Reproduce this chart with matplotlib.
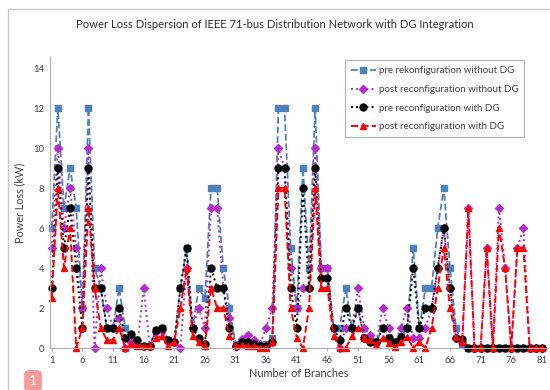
import numpy as np
import matplotlib
matplotlib.use('Agg')
import matplotlib.pyplot as plt
from matplotlib.patches import Rectangle

branches = list(range(1, 82))

pre_no_dg = [6, 12, 7, 9, 7, 2, 12, 4, 3, 1,
             1, 3, 1, 0.5, 0.3, 0.1, 0.1, 0.9, 1, 0.4,
             0.3, 3, 5, 1, 3, 2.5, 8, 8, 4, 2,
             0.2, 0.3, 0.3, 0.2, 0.1, 0.2, 0.5, 12, 12, 5,
             2, 9, 4, 12, 4, 4, 1, 1, 3, 1,
             2, 0.5, 0.5, 0.3, 1, 0.5, 0.3, 0.6, 1, 5,
             1, 3, 3, 6, 8, 4, 1, 0.2, 0, 0,
             0, 0, 0, 0, 0, 0, 0, 0, 0, 0, 0]
post_no_dg = [5, 10, 6, 8, 5, 2, 10, 0, 4, 2,
              1, 1.5, 0, 0.3, 0.2, 3, 0.1, 0.8, 0.9, 0.3,
              0.3, 0, 4, 1, 2, 1, 7, 7, 3, 1.5,
              0.1, 0.45, 0.65, 0.4, 0.2, 1, 2, 10, 9, 4,
              2, 3, 3, 10, 4, 4, 1, 0, 1, 1,
              3, 1, 0.65, 0.3, 2, 1, 0.2, 1, 2, 0.5,
              0.5, 1, 2, 4, 6, 3, 0.5, 0.3, 7, 0,
              0, 5, 0, 7, 4, 0, 5, 6, 0, 0, 0]
pre_dg = [3, 9, 5, 7, 4, 1, 9, 3, 3, 1,
          1, 2, 0.5, 0.7, 0.4, 0.1, 0.1, 0.9, 1, 0.4,
          0.3, 3, 5, 1, 0.5, 0.2, 4, 3, 3, 1,
          0.1, 0.3, 0.3, 0.2, 0.1, 0.1, 0.3, 9, 9, 3,
          1, 8, 3, 9, 3.5, 3.5, 1, 0.4, 2, 1,
          2, 0.5, 0.3, 0.3, 1, 0.5, 0.3, 0.55, 1, 4,
          1, 2, 2, 4, 6, 3, 0.5, 0.45, 0, 0,
          0, 0, 0, 0, 0, 0, 0, 0, 0, 0, 0]
post_dg = [2.5, 8, 4, 6, 0, 1, 7, 3, 1, 0.4,
           0.4, 1, 0, 0.2, 0.1, 0.1, 0.1, 0.5, 0.6, 0.1,
           0.3, 2, 4, 0.6, 0.3, 0.1, 3, 2, 2, 0.6,
           0.1, 0.15, 0.1, 0.1, 0, 0, 0.3, 8, 8, 2,
           0.5, 0, 2, 8, 3, 3, 0.6, 0, 0, 0.6,
           1, 0.5, 0.4, 0.15, 0.5, 0.25, 0.05, 0.3, 0.55, 0,
           0.3, 0, 1, 3, 5, 2, 0.55, 0.3, 7, 0,
           0, 5, 0, 6, 4, 0, 5, 5, 0, 0, 0]

labels = ['pre rekonfiguration without DG',
          'post reconfiguration without DG',
          'pre reconfiguration with DG',
          'post reconfiguration with DG']

plt.rcParams['font.family'] = ['Lato', 'DejaVu Sans']

fig = plt.figure(figsize=(5.5, 3.9), dpi=100)

# outer chart frame
fig.patches.append(Rectangle((8 / 550, -0.02), 1.0, 1 - 9 / 390 + 0.02,
                             transform=fig.transFigure, fill=False,
                             edgecolor='#c8c8c8', linewidth=1.0))

ax = fig.add_axes([50 / 550, 42 / 390, 498 / 550, 291 / 390])

ax.plot(branches, pre_no_dg, linestyle='--', color='#4F81BD', marker='s',
        markersize=4, linewidth=1.3, label=labels[0], clip_on=False)
ax.plot(branches, post_no_dg, linestyle=':', color='#B42FC8', marker='D',
        markersize=4, linewidth=1.4, label=labels[1], clip_on=False)
ax.plot(branches, pre_dg, linestyle=':', color='black', marker='o',
        markersize=5, linewidth=1.4, label=labels[2], clip_on=False)
ax.plot(branches, post_dg, linestyle='--', color='#FF0000', marker='^',
        markersize=5, linewidth=1.4, label=labels[3], clip_on=False)

ax.set_xlim(0.72, 82.0)
ax.set_ylim(0, 14.55)
ax.set_xticks(range(1, 82, 5))
ax.set_yticks(range(0, 15, 2))
ax.tick_params(axis='both', labelsize=6.8, colors='#404040', length=0, pad=4)
ax.tick_params(axis='x', length=2, color='#b0b0b0')

for side in ['top', 'right']:
    ax.spines[side].set_visible(False)
ax.spines['left'].set_color('#b0b0b0')
ax.spines['bottom'].set_color('#b0b0b0')

ax.set_xlabel('Number of Branches', fontsize=7.8, color='#404040', labelpad=2)
ax.set_ylabel('Power Loss (kW)', fontsize=7.8, color='#404040', labelpad=6)

fig.text(275 / 550, 1 - 25 / 390,
         'Power Loss Dispersion of IEEE 71-bus Distribution Network with DG Integration',
         ha='center', va='center', fontsize=8.1, color='#303030')

leg = ax.legend(loc='upper left', bbox_to_anchor=(290 / 498, 1.005), fontsize=7,
                frameon=True, fancybox=False, edgecolor='#a0a0a0',
                handlelength=2.6, labelspacing=1.0, borderpad=0.6,
                handletextpad=0.3)
leg.get_frame().set_linewidth(0.8)
for t in leg.get_texts():
    t.set_color('#404040')

# little corner badge
fig.text(33 / 550, 1 - 381 / 390, '1', ha='center', va='center', fontsize=10,
         color='white',
         bbox=dict(boxstyle='round,pad=0.35', facecolor='#f59b9b',
                   edgecolor='none'))

fig.savefig('out.png', dpi=100)
